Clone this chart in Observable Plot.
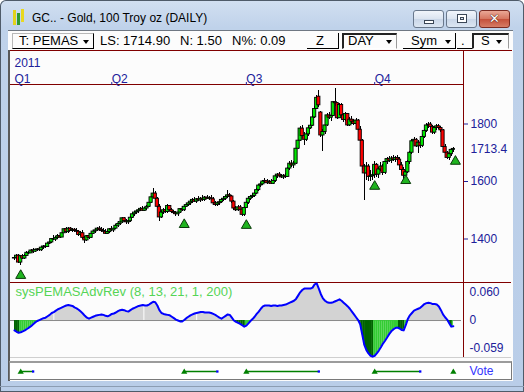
<!DOCTYPE html>
<html><head><meta charset="utf-8">
<script src="https://cdn.jsdelivr.net/npm/d3@7"></script>
<script src="https://cdn.jsdelivr.net/npm/@observablehq/plot@0.6"></script>
<style>
html,body{margin:0;padding:0;width:524px;height:392px;overflow:hidden;background:#fff}
#win{position:relative;width:524px;height:392px;background:linear-gradient(#d2e0f1,#bfd2ea 28px,#b9cde8);box-shadow:inset 0 0 0 1px #4f5b69;border-radius:6px 6px 0 0;overflow:hidden;font-family:"Liberation Sans",Arial,sans-serif}
.a{position:absolute;box-sizing:border-box}
.wbtn{top:10px;height:18px;border:1px solid #69788c;border-radius:3px;background:linear-gradient(#f1f5fb,#dbe4f0 50%,#c9d6e8 51%,#dce6f2)}
.tb{font-size:13px;line-height:15px;color:#000;white-space:nowrap}
.arr{width:0;height:0;border-left:3.5px solid transparent;border-right:3.5px solid transparent;border-top:4px solid #000}
.plotbox{position:absolute;left:0;width:524px}
</style></head>
<body>
<div id="win">
  <!-- title bar -->
  <div class="a" style="left:13px;top:10px;width:3px;height:15px;background:#e2d21a"></div>
  <div class="a" style="left:17px;top:13px;width:3px;height:12px;background:#2f9a2f"></div>
  <div class="a" style="left:21px;top:9px;width:3px;height:13px;background:#e8d820"></div>
  <div class="a" style="left:32px;top:11px;font-size:12px;line-height:15px;color:#000;white-space:nowrap">GC.. - Gold, 100 Troy oz (DAILY)</div>
  <div class="a wbtn" style="left:413px;width:31px"><div class="a" style="left:10px;top:9px;width:10px;height:4px;background:#fff;border:1px solid #3a4656"></div></div>
  <div class="a wbtn" style="left:446px;width:31px"><div class="a" style="left:10px;top:3px;width:10px;height:9px;border:1px solid #3a4656;background:#fff"><div class="a" style="left:2px;top:2px;width:4px;height:3px;border:1px solid #3a4656;background:#dbe4f0"></div></div></div>
  <div class="a wbtn" style="left:479px;width:31px;border-color:#7a2b22;background:linear-gradient(#eaa896,#d5755f 50%,#c4503a 51%,#d67c65)"><div class="a" style="left:0;top:0;width:29px;height:16px;text-align:center;font:bold 13px/16px 'DejaVu Sans',sans-serif;color:#fff;text-shadow:0 0 1px #3a0a05,0 0 1px #3a0a05">✕</div></div>

  <!-- client -->
  <div class="a" style="left:8px;top:30px;width:505px;height:351px;background:#fcfcfc;border-top:1px solid #6f7782"></div>

  <!-- toolbar -->
  <div class="a" style="left:12px;top:33px;width:82px;height:16px;border:1px solid;border-color:#b8b8b8 #000 #000 #b8b8b8"></div>
  <div class="a tb" style="left:19px;top:33px">T: PEMAS</div>
  <div class="a arr" style="left:83px;top:40px"></div>
  <div class="a tb" style="left:100px;top:33px">LS: 1714.90</div>
  <div class="a tb" style="left:180px;top:33px">N: 1.50</div>
  <div class="a tb" style="left:232px;top:33px">N%: 0.09</div>
  <div class="a" style="left:307px;top:33px;width:32px;height:16px;border-right:1px solid #000;border-bottom:1px solid #000"></div>
  <div class="a tb" style="left:316px;top:33px">Z</div>
  <div class="a" style="left:342px;top:33px;width:55px;height:16px;border:1px solid;border-width:2px 1px 1px 2px;border-color:#222 #9a9a9a #fff #222"></div>
  <div class="a tb" style="left:348px;top:33px">DAY</div>
  <div class="a arr" style="left:386px;top:40px"></div>
  <div class="a" style="left:403px;top:33px;width:53px;height:16px;border-right:1px solid #000;border-bottom:1px solid #000"></div>
  <div class="a tb" style="left:411px;top:33px">Sym</div>
  <div class="a arr" style="left:445px;top:40px"></div>
  <div class="a" style="left:457px;top:33px;width:15px;height:16px;border-bottom:1px solid #000"></div>
  <div class="a tb" style="left:461px;top:33px">.</div>
  <div class="a" style="left:472px;top:33px;width:37px;height:16px;border:1px solid;border-width:2px 1px 1px 2px;border-color:#222 #9a9a9a #fff #222"></div>
  <div class="a tb" style="left:481px;top:33px">S</div>
  <div class="a arr" style="left:496px;top:40px"></div>

  <!-- chart frame lines -->
  <div class="a" style="left:8px;top:50px;width:2px;height:331px;background:#5a5a5a"></div>
  <div class="a" style="left:10px;top:50px;width:502px;height:1px;background:#800000"></div>
  <div class="a" style="left:10px;top:84px;width:454px;height:1px;background:#800000"></div>
  <div class="a" style="left:463px;top:50px;width:1px;height:307px;background:#800000"></div>
  <div class="a" style="left:10px;top:282px;width:501px;height:1px;background:#800000"></div>
  <div class="a" style="left:10px;top:357px;width:501px;height:1px;background:#cfcfcf"></div>
  <div class="a" style="left:9px;top:361px;width:503px;height:19px;border:1px solid #7a7a7a;border-top:2px solid #9c9c9c;background:#fff"></div>
  <div class="a" style="left:0;top:386px;width:524px;height:1px;background:#8c9db3"></div>

  <div id="price" class="plotbox" style="top:50px"></div>
  <div id="osc" class="plotbox" style="top:282px"></div>
  <div id="vote" class="plotbox" style="top:363px"></div>
</div>
<script>
// ---- data ----
const open = [
1332,1334,1342,1318,1340,1332,1341,1352,1350,1360,
1356,1362,1364,1361,1370,1374,1372,1384,1388,1400,
1398,1404,1410,1405,1420,1434,1424,1436,1428,1432,
1428,1425,1414,1420,1404,1395,1410,1404,1418,1426,
1430,1436,1432,1428,1425,1418,1424,1434,1430,1436,
1446,1452,1458,1472,1462,1458,1462,1474,1486,1492,
1496,1500,1505,1498,1506,1512,1526,1545,1558,1540,
1512,1475,1492,1500,1494,1515,1500,1494,1490,1486,
1492,1504,1500,1512,1518,1524,1530,1536,1530,1538,
1534,1540,1536,1544,1540,1542,1538,1524,1518,1524,
1528,1536,1540,1546,1552,1548,1530,1506,1500,1510,
1502,1484,1508,1526,1540,1546,1550,1558,1570,1586,
1590,1600,1602,1594,1598,1592,1602,1618,1624,1618,
1614,1620,1616,1645,1662,1656,1662,1714,1742,1784,
1758,1745,1764,1785,1794,1823,1852,1895,1840,1760,
1772,1795,1830,1822,1828,1876,1872,1820,1866,1830,
1814,1835,1795,1815,1808,1800,1812,1780,1742,1652,
1628,1652,1616,1618,1622,1658,1624,1642,1652,1630,
1668,1678,1672,1680,1675,1682,1676,1656,1640,1620,
1632,1668,1700,1740,1745,1722,1735,1724,1755,1776,
1795,1798,1790,1770,1786,1792,1786,1778,1720,1700,
1682,1695,1710];
const high = [
1340,1346,1345,1344,1345,1345,1356,1358,1365,1368,
1365,1368,1370,1372,1378,1378,1386,1392,1402,1412,
1408,1415,1420,1422,1436,1440,1440,1440,1436,1437,
1436,1430,1425,1428,1410,1412,1420,1422,1430,1436,
1440,1442,1440,1436,1432,1428,1438,1442,1438,1450,
1460,1462,1476,1476,1468,1466,1478,1490,1496,1500,
1506,1510,1512,1510,1516,1530,1550,1577,1566,1545,
1520,1495,1505,1510,1520,1518,1505,1500,1496,1495,
1506,1512,1515,1522,1528,1535,1540,1544,1542,1548,
1546,1550,1548,1552,1548,1552,1545,1530,1528,1532,
1540,1544,1550,1568,1560,1552,1534,1512,1515,1516,
1506,1512,1530,1545,1550,1556,1562,1575,1590,1596,
1605,1610,1608,1604,1606,1604,1622,1628,1632,1626,
1624,1628,1648,1668,1674,1668,1720,1748,1790,1795,
1770,1770,1790,1800,1830,1860,1900,1917,1845,1780,
1800,1838,1840,1835,1880,1923,1876,1872,1870,1836,
1840,1838,1822,1825,1815,1818,1815,1790,1746,1660,
1665,1660,1640,1630,1670,1662,1648,1665,1658,1675,
1684,1688,1686,1690,1688,1690,1682,1665,1648,1640,
1672,1705,1746,1752,1750,1742,1745,1762,1780,1802,
1805,1804,1795,1792,1798,1798,1792,1780,1728,1705,
1700,1715,1720];
const low = [
1325,1330,1316,1309,1328,1330,1338,1345,1348,1350,
1352,1355,1358,1358,1365,1367,1370,1380,1385,1396,
1392,1400,1402,1404,1418,1420,1420,1425,1422,1424,
1420,1410,1408,1400,1384,1390,1400,1402,1415,1420,
1425,1426,1424,1418,1415,1414,1420,1426,1424,1432,
1440,1448,1455,1458,1452,1450,1458,1470,1480,1485,
1490,1495,1494,1494,1500,1508,1522,1540,1535,1505,
1462,1470,1485,1490,1490,1495,1488,1485,1480,1478,
1488,1496,1496,1508,1512,1518,1524,1526,1525,1530,
1526,1532,1530,1536,1534,1536,1520,1512,1514,1518,
1524,1530,1534,1540,1544,1524,1500,1495,1496,1498,
1478,1480,1505,1520,1534,1540,1546,1555,1565,1578,
1585,1592,1590,1588,1590,1588,1598,1612,1614,1610,
1606,1612,1614,1640,1650,1644,1660,1710,1738,1750,
1725,1738,1758,1780,1790,1820,1850,1858,1752,1705,
1765,1790,1815,1810,1825,1860,1815,1818,1825,1805,
1808,1790,1790,1800,1795,1790,1775,1738,1640,1535,
1605,1600,1600,1605,1610,1615,1612,1635,1620,1625,
1660,1665,1662,1668,1665,1670,1650,1636,1604,1612,
1628,1660,1695,1728,1718,1697,1715,1720,1750,1770,
1785,1785,1765,1762,1778,1780,1772,1715,1695,1676,
1674,1688,1702];
const close = [
1334,1342,1318,1340,1332,1341,1352,1350,1360,1356,
1362,1364,1361,1370,1374,1372,1384,1388,1400,1398,
1404,1410,1405,1420,1434,1424,1436,1428,1432,1428,
1425,1414,1420,1404,1395,1410,1404,1418,1426,1430,
1436,1432,1428,1425,1418,1424,1434,1430,1436,1446,
1452,1458,1472,1462,1458,1462,1474,1486,1492,1496,
1500,1505,1498,1506,1512,1526,1545,1558,1540,1512,
1475,1492,1500,1494,1515,1500,1494,1490,1486,1492,
1504,1500,1512,1518,1524,1530,1536,1530,1538,1534,
1540,1536,1544,1540,1542,1538,1524,1518,1524,1528,
1536,1540,1546,1552,1548,1530,1506,1500,1510,1502,
1484,1508,1526,1540,1546,1550,1558,1570,1586,1590,
1600,1602,1594,1598,1592,1602,1618,1624,1618,1614,
1620,1616,1645,1662,1656,1662,1714,1742,1784,1758,
1745,1764,1785,1794,1823,1852,1891,1865,1760,1772,
1795,1830,1822,1828,1876,1872,1820,1866,1830,1814,
1835,1795,1815,1808,1800,1812,1780,1742,1652,1628,
1652,1616,1618,1622,1658,1624,1642,1652,1630,1668,
1678,1672,1680,1675,1682,1676,1656,1640,1620,1632,
1668,1700,1740,1745,1722,1735,1724,1755,1776,1795,
1798,1790,1770,1786,1792,1786,1778,1720,1700,1682,
1695,1710,1713.4];
const oscValues = [
-0.021,-0.024,-0.026,-0.025,-0.023,-0.021,-0.018,-0.015,-0.012,-0.008,
-0.004,-0.001,0.001,0.003,0.005,0.006,0.009,0.012,0.016,0.018,
0.021,0.024,0.026,0.028,0.030,0.032,0.033,0.032,0.031,0.028,
0.026,0.023,0.019,0.015,0.010,0.006,0.004,0.006,0.008,0.010,
0.011,0.012,0.013,0.012,0.010,0.009,0.011,0.014,0.015,0.017,
0.020,0.022,0.023,0.022,0.020,0.019,0.022,0.025,0.027,0.029,
0.031,0.032,0.033,0.032,0.032,0.034,0.037,0.040,0.039,0.032,
0.022,0.016,0.014,0.013,0.012,0.011,0.008,0.005,0.002,0.000,
-0.002,-0.002,0.001,0.005,0.008,0.011,0.013,0.015,0.016,0.017,
0.018,0.018,0.017,0.017,0.017,0.016,0.014,0.012,0.009,0.006,
0.004,0.007,0.010,0.013,0.012,0.006,0.000,-0.003,-0.005,-0.007,
-0.010,-0.013,-0.011,-0.006,-0.001,0.003,0.008,0.014,0.019,0.025,
0.030,0.032,0.032,0.032,0.031,0.032,0.032,0.031,0.032,0.032,
0.033,0.034,0.036,0.038,0.040,0.042,0.046,0.053,0.060,0.065,
0.068,0.068,0.068,0.068,0.070,0.077,0.079,0.068,0.056,0.047,
0.042,0.039,0.038,0.038,0.039,0.041,0.043,0.045,0.042,0.038,
0.034,0.030,0.025,0.019,0.013,0.007,0.001,-0.008,-0.030,-0.052,
-0.063,-0.070,-0.075,-0.077,-0.075,-0.070,-0.064,-0.057,-0.049,-0.043,
-0.036,-0.029,-0.023,-0.019,-0.016,-0.015,-0.017,-0.020,-0.021,-0.010,
0.003,0.011,0.016,0.021,0.023,0.025,0.027,0.031,0.035,0.037,
0.038,0.037,0.035,0.035,0.034,0.030,0.022,0.013,0.007,0.002,
-0.006,-0.013,-0.012];
const yearLabel = "2011";
const quarterLabels = ["Q1", "Q2", "Q3", "Q4"];
const quarterIdx = [0, 47, 112, 174];
const priceTicks = [1400, 1600, 1800];
const oscTicks = [0.06, 0, -0.059];
const signalIdx = [3, 82, 112, 174, 189, 213];
const signalPrice = [1273, 1450, 1447, 1583, 1603, 1670];
const voteStart = [3, 82, 112, 174, 212];
const voteEnd = [9, 98, 147, 196, 212];
const oscGapIdx = [19, 62.5, 88];
const indicatorName = "sysPEMASAdvRev (8, 13, 21, 1, 200)";
const voteLabel = "Vote";

// ---- drawing ----
const N = close.length;
const X_DOMAIN = [-1.93, 216.9];
const PRICE_DOMAIN = [1248.7, 1937.4];
const OSC_DOMAIN = [-0.0787, 0.0809];
const NAVY = "#20209a", UP = "#00e600", DOWN = "#ff0000";
const baseStyle = {background: "transparent", fontFamily: "Liberation Sans, Arial, sans-serif", fontSize: "12px", color: NAVY, overflow: "visible"};

const bars = close.map((c, i) => ({i, open: open[i], high: high[i], low: low[i], close: c}));
const signals = signalIdx.map((i, k) => ({i, p: signalPrice[k]}));

const pricePlot = Plot.plot({
  width: 524, height: 232, marginLeft: 10, marginRight: 61, marginTop: 34, marginBottom: 0,
  style: baseStyle,
  x: {domain: X_DOMAIN, axis: null},
  y: {domain: PRICE_DOMAIN, axis: null},
  marks: [
    Plot.text([yearLabel], {x: quarterIdx[0], frameAnchor: "top", dy: -26, textAnchor: "start", fill: NAVY, fontSize: 12}),
    Plot.text(quarterLabels, {x: (d, k) => quarterIdx[k], frameAnchor: "top", dy: -10, textAnchor: "start", fill: NAVY, fontSize: 12}),
    Plot.ruleX(quarterIdx.slice(1), {x: d => d, y1: PRICE_DOMAIN[1] + 7, y2: PRICE_DOMAIN[1] - 3.5, stroke: NAVY}),
    Plot.ruleX(bars, {x: "i", y1: "low", y2: "high", stroke: "#000", strokeWidth: 1, shapeRendering: "crispEdges"}),
    Plot.rect(bars, {x1: d => d.i - 0.78, x2: d => d.i + 0.78, y1: "open", y2: "close",
      fill: d => d.close >= d.open ? UP : DOWN, stroke: "#000", strokeWidth: 0.9}),
    Plot.dot(signals, {x: "i", y: "p", symbol: "triangle", r: 3.7, fill: "#1fb41f", stroke: "#0a3a0a", strokeWidth: 1}),
    Plot.axisY(priceTicks, {anchor: "right", tickSize: 4, tickPadding: 3, stroke: NAVY, fill: NAVY, fontSize: 12, tickFormat: d => String(d), label: null}),
    Plot.text([close[N - 1]], {x: X_DOMAIN[1], y: d => d, text: d => d.toFixed(1), dx: 7, textAnchor: "start", fill: NAVY, fontSize: 12})
  ]
});
document.getElementById("price").appendChild(pricePlot);

const osc = oscValues.map((v, i) => ({i, v, cat: v >= 0 ? "pos" : (i > 0 && v > oscValues[i - 1] ? "rise" : "fall")}));
const oscPlot = Plot.plot({
  width: 524, height: 75, marginLeft: 10, marginRight: 61, marginTop: 0, marginBottom: 0,
  style: baseStyle,
  x: {domain: X_DOMAIN, axis: null},
  y: {domain: OSC_DOMAIN, axis: null},
  marks: [
    Plot.ruleY([0], {stroke: "#8a8a8a", insetRight: 2}),
    // per-bar colour columns below zero (clipped to the indicator's negative area afterwards)
    Plot.rect(osc.filter(d => d.v < 0), {x1: d => d.i - 0.5, x2: d => d.i + 0.53,
      y1: 0, y2: OSC_DOMAIN[0], fill: d => d.cat === "rise" ? "#33cc33" : "#006400"}),
    // negative area: used as the clip shape
    Plot.areaY(osc, {x: "i", y1: 0, y2: d => Math.min(d.v, 0), fill: "#000"}),
    // positive area in grey
    Plot.areaY(osc, {x: "i", y1: 0, y2: d => Math.max(d.v, 0), fill: "#d3d3d3"}),
    Plot.ruleX(oscGapIdx, {x: d => d, y1: 0, y2: d => Math.max(oscValues[Math.round(d)], 0), stroke: "#ffffff"}),
    Plot.line(osc, {x: "i", y: "v", stroke: "#0000ff", strokeWidth: 2}),
    Plot.axisY(oscTicks, {anchor: "right", tickSize: 0, tickPadding: 6, fill: NAVY, fontSize: 12, tickFormat: d => d === 0 ? "0" : d.toFixed(3), label: null}),
    Plot.text([indicatorName], {frameAnchor: "top-left", dx: 5, dy: 4, lineAnchor: "top", textAnchor: "start", fill: "#55d455", fontSize: 13})
  ]
});
(function clipColumns(svg) {
  const ns = "http://www.w3.org/2000/svg";
  const areaG = svg.querySelector('g[aria-label="area"]');
  const rectG = svg.querySelector('g[aria-label="rect"]');
  if (!areaG || !rectG) return;
  const defs = document.createElementNS(ns, "defs");
  const cp = document.createElementNS(ns, "clipPath");
  cp.setAttribute("id", "oscNegClip");
  areaG.querySelectorAll("path").forEach(p => {
    const c = p.cloneNode();
    const t = areaG.getAttribute("transform");
    if (t) c.setAttribute("transform", t);
    cp.appendChild(c);
  });
  defs.appendChild(cp);
  svg.insertBefore(defs, svg.firstChild);
  rectG.setAttribute("clip-path", "url(#oscNegClip)");
  areaG.remove();
})(oscPlot);
document.getElementById("osc").appendChild(oscPlot);

const votes = voteStart.map((s, k) => ({s, e: voteEnd[k]}));
const votePlot = Plot.plot({
  width: 524, height: 16, marginLeft: 10, marginRight: 61, marginTop: 0, marginBottom: 0,
  style: baseStyle,
  x: {domain: X_DOMAIN, axis: null},
  y: {domain: [0, 1], axis: null},
  marks: [
    Plot.ruleY(votes.filter(d => d.e > d.s), {x1: "s", x2: "e", y: 0.5, stroke: "#008000", strokeWidth: 1.5}),
    Plot.dot(votes, {x: "s", y: 0.5, symbol: "triangle", r: 2.3, fill: "#008000", dy: 0.5}),
    Plot.dot(votes.filter(d => d.e > d.s), {x: "e", y: 0.5, symbol: "square", r: 1.3, fill: "#0000ff"}),
    Plot.text([voteLabel], {x: X_DOMAIN[1], y: 0.5, dx: 6, textAnchor: "start", fill: "#3434ff", fontSize: 12})
  ]
});
document.getElementById("vote").appendChild(votePlot);
</script>
</body></html>
